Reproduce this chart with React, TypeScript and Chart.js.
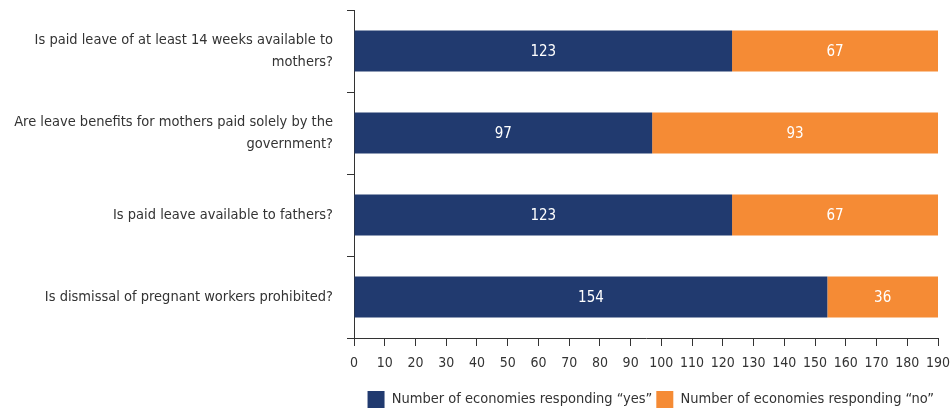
import React, { useEffect, useRef } from "react";
import { Chart, registerables } from "chart.js";

Chart.register(...registerables);

const categories: (string | string[])[] = [
  ["Is paid leave of at least 14 weeks available to", "mothers?"],
  ["Are leave benefits for mothers paid solely by the", "government?"],
  "Is paid leave available to fathers?",
  "Is dismissal of pregnant workers prohibited?",
];
const yesValues = [123, 97, 123, 154];
const noValues = [67, 93, 67, 36];
const seriesLabels = [
  "Number of economies responding \u201Cyes\u201D",
  "Number of economies responding \u201Cno\u201D",
];
const xMin = 0;
const xMax = 190;
const xStep = 10;

const FONT = "'DejaVu Sans Condensed', 'Liberation Sans Narrow', sans-serif";
const NAVY = "#213a6f";
const ORANGE = "#f58b35";
const TEXT = "#333333";

const valueLabels = {
  id: "valueLabels",
  afterDatasetsDraw(chart: any) {
    const ctx = chart.ctx;
    ctx.save();
    ctx.fillStyle = "#ffffff";
    ctx.font = `15px ${FONT}`;
    ctx.textAlign = "center";
    ctx.textBaseline = "middle";
    chart.data.datasets.forEach((ds: any, di: number) => {
      const meta = chart.getDatasetMeta(di);
      meta.data.forEach((bar: any, i: number) => {
        const p = bar.getProps(["x", "y", "base"], true);
        const cx = (p.x + p.base) / 2;
        ctx.fillText(String(ds.data[i]), cx, p.y + 1);
      });
    });
    ctx.restore();
  },
};

export default function App() {
  const ref = useRef<HTMLCanvasElement | null>(null);
  useEffect(() => {
    document.body.style.margin = "0";
    const chart = new Chart(ref.current!, {
      type: "bar",
      data: {
        labels: categories,
        datasets: [
          {
            label: seriesLabels[0],
            data: yesValues,
            backgroundColor: NAVY,
            categoryPercentage: 1,
            barPercentage: 0.5,
          },
          {
            label: seriesLabels[1],
            data: noValues,
            backgroundColor: ORANGE,
            categoryPercentage: 1,
            barPercentage: 0.5,
          },
        ],
      },
      plugins: [valueLabels],
      options: {
        indexAxis: "y",
        animation: false,
        responsive: false,
        maintainAspectRatio: false,
        layout: { padding: { top: 10, right: 14, left: 0, bottom: -9 } },
        plugins: {
          tooltip: { enabled: false },
          legend: {
            position: "bottom",
            align: "end",
            labels: {
              color: TEXT,
              font: { family: FONT, size: 14.5 },
              boxWidth: 17,
              boxHeight: 17,
              padding: 4,
            },
          },
        },
        scales: {
          x: {
            stacked: true,
            min: xMin,
            max: xMax,
            ticks: {
              stepSize: xStep,
              color: TEXT,
              font: { family: FONT, size: 14 },
              maxRotation: 0,
              autoSkip: false,
              padding: 9,
            },
            grid: {
              drawOnChartArea: false,
              drawTicks: true,
              tickLength: 8,
              color: "#333333",
            },
            border: { display: true, color: "#333333", width: 1 },
            afterFit(scale: any) {
              scale.height = 49;
              scale.paddingLeft = 0;
              scale.paddingRight = 0;
            },
          },
          y: {
            stacked: true,
            ticks: {
              color: TEXT,
              font: { family: FONT, size: 14.5, lineHeight: 1.5 },
              padding: 14,
              autoSkip: false,
            },
            grid: {
              drawOnChartArea: false,
              drawTicks: true,
              tickLength: 7,
              offset: true,
              color: "#333333",
            },
            border: { display: true, color: "#333333", width: 1 },
            afterFit(scale: any) {
              scale.width = 354;
              scale.paddingTop = 0;
              scale.paddingBottom = 0;
            },
          },
        },
      },
    });
    return () => chart.destroy();
  }, []);
  return (
    <div style={{ position: "relative", width: 952, height: 409 }}>
      <canvas ref={ref} width={952} height={409} style={{ display: "block" }} />
    </div>
  );
}
